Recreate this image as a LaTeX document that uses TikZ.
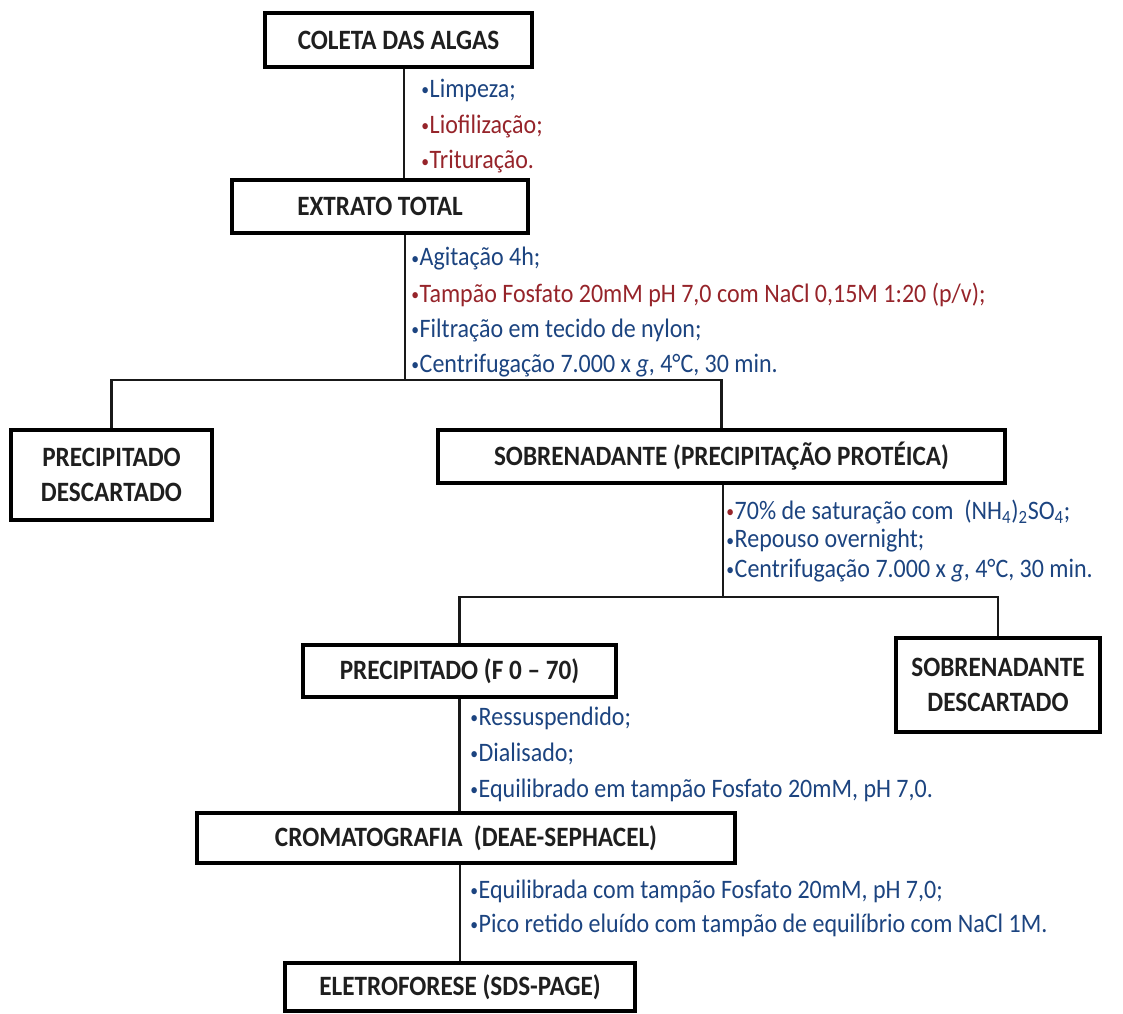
\documentclass[tikz,border=0pt]{standalone}
\usepackage{fontspec}
\setmainfont{Carlito}[FakeStretch=0.9]
\definecolor{tblue}{RGB}{28,68,128}
\definecolor{tred}{RGB}{150,36,42}
\newcommand{\bul}{\raisebox{0.15ex}{\fontsize{13}{13}\selectfont•}\hspace{0.5pt}}
\tikzset{
  boxst/.style={draw=black, line width=2.5pt, fill=white, inner sep=0pt, align=center,
    font=\fontsize{21}{26}\selectfont\bfseries, text=black!88},
  conn/.style={draw=black!90, line width=2.2pt},
  itemb/.style={anchor=west, inner sep=0pt, font=\fontsize{20}{24}\selectfont, text=tblue},
  itemr/.style={itemb, text=tred}
}
\newcommand{\bxnode}[6]{\node[boxst, minimum width={(#4-#2)*0.75pt}, minimum height={(#5-#3)*0.75pt}] (#1) at ({(#2+#4)/2},{(#3+#5)/2}) {#6};}
\begin{document}
\begin{tikzpicture}[x=0.75pt,y=-0.75pt]
\useasboundingbox (0,0) rectangle (1123,1013);
% helper coordinates
\coordinate (c1) at (404,0);
\coordinate (j1) at (405,380);
\coordinate (j2) at (723,597);
% boxes
\bxnode{coleta}{265}{13}{532}{67}{COLETA DAS ALGAS}
\bxnode{extrato}{232}{180}{528}{233}{EXTRATO TOTAL}
\bxnode{precd}{11}{430}{212}{520}{PRECIPITADO\\DESCARTADO}
\bxnode{sobre}{438}{430}{1005}{483}{SOBRENADANTE (PRECIPITAÇÃO PROTÉICA)}
\bxnode{precf}{303}{645}{616}{697}{PRECIPITADO (F 0 – 70)}
\bxnode{sobd}{896}{638}{1100}{732}{SOBRENADANTE\\DESCARTADO}
\bxnode{crom}{197}{813}{735}{863}{CROMATOGRAFIA\ \ (DEAE-SEPHACEL)}
\bxnode{eletro}{285}{963}{635}{1011}{ELETROFORESE (SDS-PAGE)}
% connectors
\draw[conn] (coleta.south -| c1) -- (extrato.north -| c1);
\draw[conn] (extrato.south -| j1) -- (j1);
\draw[conn] (precd.north) |- (j1) -| (sobre.north);
\draw[conn] (sobre.south -| j2) -- (j2);
\draw[conn] (precf.north) |- (j2) -| (sobd.north);
\draw[conn] (precf.south) -- (precf.south |- crom.north);
\draw[conn] (eletro.north |- crom.south) -- (eletro.north);
% step lists
\node[itemb] (l1) at (421,90) {\bul Limpeza;};
\node[itemr] (l2) at (421,126) {\bul Liofilização;};
\node[itemr] (l3) at (421,162) {\bul Trituração.};
\node[itemb] (a1) at (411,259) {\bul Agitação 4h;};
\node[itemr] (a2) at (411,295) {\bul Tampão Fosfato 20mM pH 7,0 com NaCl 0,15M 1:20 (p/v);};
\node[itemb] (a3) at (411,330) {\bul Filtração em tecido de nylon;};
\node[itemb] (a4) at (411,366) {\bul Centrifugação 7.000 x \textit{g}, 4°C, 30 min.};
\node[itemb] (s1) at (726,512) {\textcolor{tred}{\bul}70\% de saturação com \ (NH\textsubscript{4})\textsubscript{2}SO\textsubscript{4};};
\node[itemb] (s2) at (726,541) {\bul Repouso overnight;};
\node[itemb] (s3) at (726,571) {\bul Centrifugação 7.000 x \textit{g}, 4°C, 30 min.};
\node[itemb] (p1) at (470,718) {\bul Ressuspendido;};
\node[itemb] (p2) at (470,754) {\bul Dialisado;};
\node[itemb] (p3) at (470,790) {\bul Equilibrado em tampão Fosfato 20mM, pH 7,0.};
\node[itemb] (e1) at (470,891) {\bul Equilibrada com tampão Fosfato 20mM, pH 7,0;};
\node[itemb] (e2) at (470,925) {\bul Pico retido eluído com tampão de equilíbrio com NaCl 1M.};
\end{tikzpicture}
\end{document}
